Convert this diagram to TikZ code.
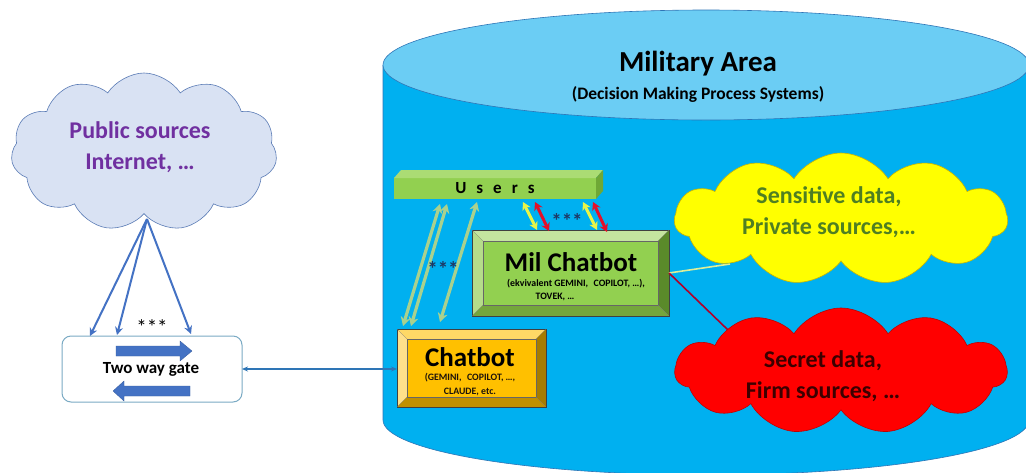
\documentclass[tikz,border=0pt]{standalone}
\usepackage{fontspec}
\setmainfont{Carlito}
\usetikzlibrary{shapes.symbols,arrows.meta,calc}
\definecolor{cylbody}{HTML}{00B0F0}
\definecolor{cyltop}{HTML}{6BCDF4}
\definecolor{cyledge}{HTML}{2E75B6}
\definecolor{pubfill}{HTML}{D9E2F3}
\definecolor{pubedge}{HTML}{5A7BB5}
\definecolor{pubtext}{HTML}{7030A0}
\definecolor{gblue}{HTML}{4472C4}
\definecolor{gateedge}{HTML}{7AAAC4}
\definecolor{linkblue}{HTML}{2E75B6}
\definecolor{gold}{HTML}{FFC000}
\definecolor{goldlight}{HTML}{FFD966}
\definecolor{goldleft}{HTML}{FFE08A}
\definecolor{golddark}{HTML}{A67C00}
\definecolor{goldbottom}{HTML}{C09000}
\definecolor{greenmain}{HTML}{92D050}
\definecolor{greenlight}{HTML}{C4E59F}
\definecolor{greenleft}{HTML}{B5DC8A}
\definecolor{greendark}{HTML}{5A8A2A}
\definecolor{greenbottom}{HTML}{74A63C}
\definecolor{userstop}{HTML}{ABDC74}
\definecolor{usersside}{HTML}{6FA836}
\definecolor{lgreen}{HTML}{A9D18E}
\definecolor{ylwcloud}{HTML}{FFFF00}
\definecolor{ylwedge}{HTML}{C8B400}
\definecolor{ylwarrow}{HTML}{E8F548}
\definecolor{redarrow}{HTML}{E3102A}
\definecolor{redcloud}{HTML}{FF0000}
\definecolor{rededge}{HTML}{C00000}
\definecolor{sensetext}{HTML}{4F7F22}
\definecolor{secrettext}{HTML}{3C0000}
\definecolor{dotblue}{HTML}{1F3864}
\definecolor{ylwline}{HTML}{DDEE99}
\definecolor{redline}{HTML}{B0002A}
\newcommand{\lsp}{\hspace{10pt}}
\newcommand{\bevelfaces}[6]{%
  \fill[#3] (#1.north west) -- (#1.north east) -- ($(#1.north east)+(-#2,#2)$) -- ($(#1.north west)+(#2,#2)$) -- cycle;
  \fill[#4] (#1.north west) -- (#1.south west) -- ($(#1.south west)+(#2,-#2)$) -- ($(#1.north west)+(#2,#2)$) -- cycle;
  \fill[#5] (#1.south west) -- (#1.south east) -- ($(#1.south east)+(-#2,-#2)$) -- ($(#1.south west)+(#2,-#2)$) -- cycle;
  \fill[#6] (#1.north east) -- (#1.south east) -- ($(#1.south east)+(-#2,-#2)$) -- ($(#1.north east)+(-#2,#2)$) -- cycle;
  \draw[black!75, line width=0.6pt] (#1.north west) rectangle (#1.south east);
  \draw[black!60, line width=0.4pt] ($(#1.north west)+(#2,#2)$) rectangle ($(#1.south east)+(-#2,-#2)$);
  \draw[black!50, line width=0.3pt] (#1.north west) -- ++(#2,#2) (#1.north east) -- ++(-#2,#2)
     (#1.south west) -- ++(#2,-#2) (#1.south east) -- ++(-#2,-#2);
}
\begin{document}
\begin{tikzpicture}[x=1pt,y=-1pt,
  every node/.style={inner sep=0pt, outer sep=0pt},
  cloudshape/.style={cloud, cloud puffs=11, cloud puff arc=115, cloud ignores aspect, line width=0.6pt},
  bigtxt/.style={font=\bfseries\fontsize{24}{31}\selectfont, align=center},
  boxtitle/.style={font=\bfseries\fontsize{27}{30}\selectfont},
  boxsmall/.style={font=\bfseries\fontsize{9.8}{13.5}\selectfont, align=center},
  gatearrow/.style={gblue, line width=2pt, -{Stealth[length=8pt,width=8pt]}},
  greenarrow/.style={lgreen, line width=3.2pt, {Stealth[length=9pt,width=10pt]}-{Stealth[length=9pt,width=10pt]}},
  yarrow/.style={ylwarrow, line width=3pt, {Stealth[length=8pt,width=9pt]}-{Stealth[length=8pt,width=9pt]}},
  rarrow/.style={redarrow, line width=3pt, {Stealth[length=8pt,width=9pt]}-{Stealth[length=8pt,width=9pt]}},
  stars/.style={font=\bfseries\fontsize{21}{21}\selectfont},
  blockarrow/.style={fill=gblue, draw=gblue!80!black, line width=0.3pt}
]
\useasboundingbox (0,0) rectangle (1026,472);
\clip (0,0) rectangle (1026,472);
\fill[white] (0,0) rectangle (1026,472);

% cylinder
\fill[cylbody] (383,65) rectangle (1029,420);
\fill[cylbody] (706,420) ellipse [x radius=323pt, y radius=55pt];
\draw[cyledge, line width=0.6pt] (383,65) -- (383,420) arc[start angle=180, end angle=360, x radius=323pt, y radius=55pt] -- (1029,65);
\filldraw[fill=cyltop, draw=cyledge, line width=0.6pt] (706,65) ellipse [x radius=323pt, y radius=55pt];
\node[font=\bfseries\fontsize{29}{32}\selectfont] (title) at (698,64) {Military Area};
\node[font=\bfseries\fontsize{17.5}{20}\selectfont] (subtitle) at (698,94) {(Decision Making Process Systems)};

% users bar
\node[fill=greenmain, minimum width=202pt, minimum height=21pt] (users) at (495,188.5) {};
\fill[userstop] (users.north west) -- ++(7,-8) -- ($(users.north east)+(7,-8)$) -- (users.north east) -- cycle;
\fill[usersside] (users.north east) -- ++(7,-8) -- ($(users.south east)+(7,-8)$) -- (users.south east) -- cycle;
\node[font=\bfseries\fontsize{17}{20}\selectfont] (userstxt) at (495,188) {U\lsp s\lsp e\lsp r\lsp s};

% boxes
\node[fill=greenmain, minimum width=197pt, minimum height=86pt] (mil) at (570.5,273) {};
\bevelfaces{mil}{11}{greenlight}{greenleft}{greenbottom}{greendark}
\node[boxtitle] (miltitle) at (571,262) {Mil Chatbot};
\node[boxsmall] (milsub) at (576,290) {(ekvivalent GEMINI,\,\, COPILOT, …),\\\hspace*{-42pt}TOVEK, …};

\node[fill=gold, minimum width=149pt, minimum height=78pt] (chat) at (471.5,368) {};
\bevelfaces{chat}{10}{goldlight}{goldleft}{goldbottom}{golddark}
\node[boxtitle] (chattitle) at (470,357) {Chatbot};
\node[boxsmall, text=black!85!brown] (chatsub) at (470,384.5) {(GEMINI,\,\, COPILOT, …,\\CLAUDE, etc.};

% arrows users <-> chatbot
\coordinate (c1) at (403,326); \coordinate (u1) at (440,204);
\coordinate (c2) at (411,326); \coordinate (u2) at (447,204);
\coordinate (c3) at (440,322); \coordinate (u3) at (477,202);
\draw[greenarrow] (c1) -- (u1);
\draw[greenarrow] (c2) -- (u2);
\draw[greenarrow] (c3) -- (u3);
\node[stars, text=dotblue] (gstars) at (443,269) {***};

% arrows users <-> mil chatbot
\coordinate (y1a) at (523,202); \coordinate (y1b) at (537,230);
\coordinate (r1a) at (535,202); \coordinate (r1b) at (549,231);
\coordinate (y2a) at (583,202); \coordinate (y2b) at (597,230);
\coordinate (r2a) at (593,202); \coordinate (r2b) at (607,232);
\draw[yarrow] (y1a) -- (y1b);
\draw[rarrow] (r1a) -- (r1b);
\draw[yarrow] (y2a) -- (y2b);
\draw[rarrow] (r2a) -- (r2b);
\node[stars, text=dotblue] (ystars) at (567,221) {***};

% lines to clouds
\coordinate (sensin) at (730,264);
\coordinate (secin) at (728,330);
\draw[ylwline, line width=1.6pt] (mil.east) -- (sensin);
\draw[redline, line width=1.6pt] (mil.east) -- (secin);

% data clouds
\node[cloudshape, fill=ylwcloud, draw=ylwedge, minimum width=333pt, minimum height=132pt] (sens) at (841,219) {};
\node[bigtxt, text=sensetext] (senstxt) at (829,212) {Sensitive data,\\Private sources,…};
\node[cloudshape, fill=redcloud, draw=rededge, minimum width=332pt, minimum height=126pt] (secret) at (841,371) {};
\node[bigtxt, text=secrettext] (secrettxt) at (823,376) {Secret data,\\Firm sources, …};

% public cloud
\node[cloudshape, fill=pubfill, draw=pubedge, minimum width=266pt, minimum height=158pt] (pub) at (144,152) {};
\node[bigtxt, text=pubtext] (pubtxt) at (140,147) {Public sources\\Internet, …};

% gate
\node[draw=gateedge, line width=1pt, rounded corners=9pt, fill=white, minimum width=180pt, minimum height=66pt] (gate) at (152,369) {};
\node[font=\bfseries\fontsize{17}{20}\selectfont] (gatetxt) at (151,369) {Two way gate};
\fill[blockarrow] (116,346) -- (180,346) -- (180,341) -- (192,351) -- (180,361) -- (180,356) -- (116,356) -- cycle;
\fill[blockarrow] (190,386) -- (124,386) -- (124,381) -- (113,391) -- (124,401) -- (124,396) -- (190,396) -- cycle;

\coordinate (pubout) at (147,219);
\coordinate (g1) at (90,336);
\coordinate (g2) at (117,335);
\coordinate (g3) at (191,334);
\draw[gatearrow] (pubout) -- (g1);
\draw[gatearrow] (pubout) -- (g2);
\draw[gatearrow] (pubout) -- (g3);
\node[stars, font=\fontsize{21}{21}\selectfont] (pstars) at (152,327) {***};

\draw[linkblue, line width=1.3pt, {Stealth[length=6pt,width=5pt]}-{Stealth[length=6pt,width=5pt]}] (gate.east) -- (gate.east -| chat.west);
\end{tikzpicture}
\end{document}
